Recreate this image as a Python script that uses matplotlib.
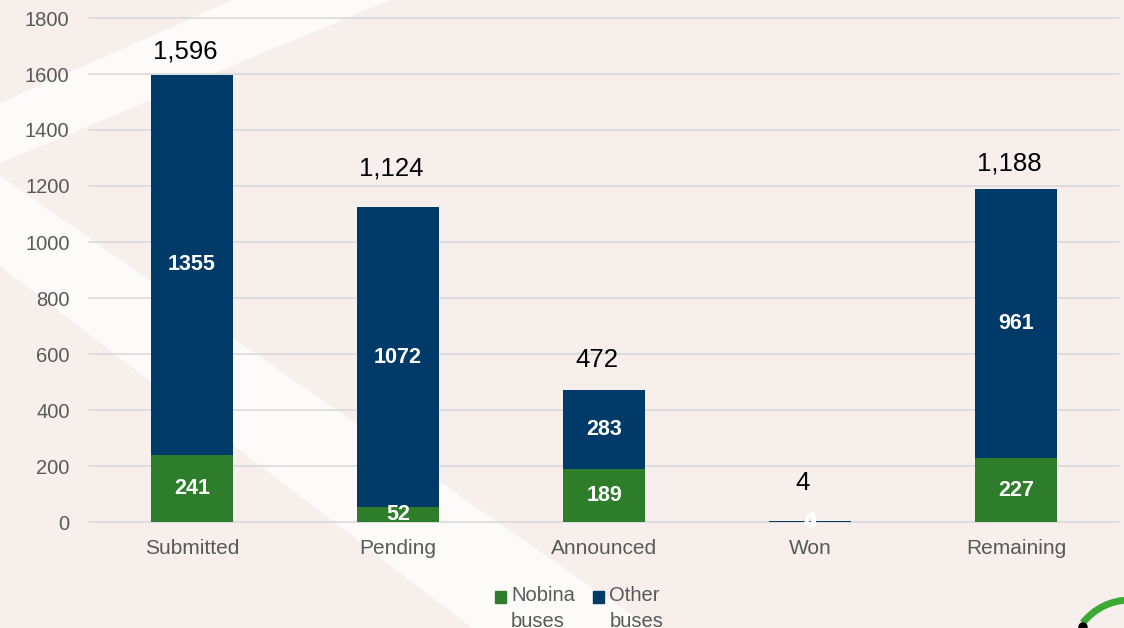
# Stacked bar chart: Nobina buses vs other buses per tender stage

import numpy as np
import matplotlib.pyplot as plt
from matplotlib.patches import Polygon, Patch, Rectangle, Arc, Circle
from matplotlib.legend_handler import HandlerPatch
from matplotlib.transforms import IdentityTransform

plt.rcParams['font.family'] = ['Liberation Sans', 'DejaVu Sans']

categories = ["Submitted", "Pending", "Announced", "Won", "Remaining"]
nobina = [241, 52, 189, 0, 227]
other = [1355, 1072, 283, 4, 961]
totals = [1596, 1124, 472, 4, 1188]
series_names = ["Nobina\nbuses", "Other\nbuses"]
y_ticks = [0, 200, 400, 600, 800, 1000, 1200, 1400, 1600, 1800]

GREEN = "#2E7D2B"
NAVY = "#003A68"
BG = "#F7EFEB"
GREY = "#595959"

W, H = 1124, 628
fig = plt.figure(figsize=(W / 100, H / 100), dpi=100, facecolor=BG)

# white diagonal bands of the slide background (pixel points, origin top-left)
def band(pts):
    xy = [(x / W, 1 - y / H) for x, y in pts]
    fig.add_artist(Polygon(xy, closed=True, transform=fig.transFigure,
                           facecolor="#FDFBFA", edgecolor="none", zorder=-1))

band([(233, 0), (390, 0), (0, 163), (0, 103)])
band([(0, 176), (0, 266), (472, 628), (650, 628)])

ax = fig.add_axes([89 / W, 106 / H, (1119 - 89) / W, (610 - 106) / H])
ax.set_facecolor("none")

x = np.arange(len(categories))
width = 0.4
ax.bar(x, nobina, width, color=GREEN, zorder=3)
ax.bar(x, other, width, bottom=nobina, color=NAVY, zorder=3)

# values inside the segments
for i in range(len(x)):
    ax.text(x[i], nobina[i] / 2, str(nobina[i]), ha="center", va="center",
            color="white", fontsize=15.5, fontweight="bold", zorder=4)
    ax.text(x[i], nobina[i] + other[i] / 2, str(other[i]), ha="center", va="center",
            color="white", fontsize=15.5, fontweight="bold", zorder=4)

# totals above the bars (lift in points, as placed on the slide)
total_lift = [12, 23, 16.5, 22, 13.5]
for i in range(len(x)):
    ax.annotate(f"{totals[i]:,}", (x[i], totals[i]), xytext=(-5, total_lift[i]),
                textcoords="offset points", ha="center", va="baseline",
                fontsize=18.5, color="black",
                family=['Liberation Sans Narrow', 'Liberation Sans'])

ax.set_xlim(-0.5, len(categories) - 0.5)
ax.set_ylim(0, 1800)
ax.set_yticks(y_ticks)
ax.set_xticks(x)
ax.set_xticklabels(categories)
ax.tick_params(axis="y", length=0, pad=14, labelsize=14.5, labelcolor=GREY)
ax.tick_params(axis="x", length=0, pad=12, labelsize=15, labelcolor=GREY)
ax.yaxis.grid(True, color="#D9D9D9", linewidth=1.2)
ax.set_axisbelow(True)
for gl in ax.get_ygridlines():
    gl.set_clip_on(False)
for s in ax.spines.values():
    s.set_visible(False)

# legend, square next to the first line of each two-line label
def top_square(legend, orig_handle, xdescent, ydescent, width, height, fontsize):
    return Rectangle((-xdescent, -ydescent + 0.6 * fontsize), width, height)

leg = fig.legend([Patch(color=GREEN), Patch(color=NAVY)], series_names,
                 loc="upper left", bbox_to_anchor=(495 / W, 1 - 586 / H),
                 ncol=2, frameon=False, fontsize=14.5, labelcolor=GREY,
                 handlelength=0.55, handleheight=0.55, handletextpad=0.25,
                 columnspacing=0.9, borderpad=0, borderaxespad=0,
                 handler_map={Patch: HandlerPatch(patch_func=top_square)})
for t in leg.get_texts():
    t.set_linespacing(1.45)

# corner of the logo at bottom right
fig.add_artist(Arc((1130, H - 660), 120, 120, theta1=40, theta2=142,
                   color="#3AAA35", linewidth=5, transform=IdentityTransform()))
fig.add_artist(Circle((1083, H - 627), 4, color="black", transform=IdentityTransform()))

fig.savefig("out.png", dpi=100, facecolor=BG)
